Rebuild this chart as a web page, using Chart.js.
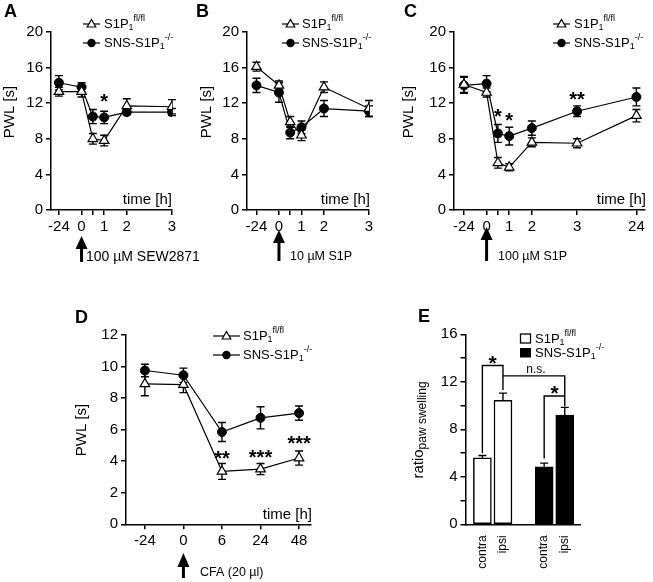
<!DOCTYPE html>
<html><head><meta charset="utf-8">
<script src="https://cdn.jsdelivr.net/npm/chart.js@4.4.1/dist/chart.umd.min.js"></script>
<style>
html,body{margin:0;padding:0;background:#fff;}
#wrap{position:relative;width:653px;height:582px;overflow:hidden;background:#fff;}
canvas{position:absolute;}
</style></head><body>
<div id="wrap">
<canvas id="cA" width="230" height="290" style="left:0px;top:0px"></canvas>
<canvas id="cB" width="208" height="290" style="left:192px;top:0px"></canvas>
<canvas id="cC" width="253" height="290" style="left:400px;top:0px"></canvas>
<canvas id="cD" width="400" height="292" style="left:0px;top:290px"></canvas>
<canvas id="cE" width="253" height="292" style="left:400px;top:290px"></canvas>
</div>
<script>
const FONT = 'Arial, "Liberation Sans", Helvetica, sans-serif';
Chart.defaults.font.family = FONT;
Chart.defaults.color = '#000';

// ================= DATA =================
// Panel A: 100 µM SEW2871
const timeA = ['-24','0','0.5','1','2','3'];
const flA = [13.3, 13.3, 8.0, 7.8, 11.7, 11.6];
const flA_sem = [0.5, 0.6, 0.6, 0.6, 0.8, 0.8];
const koA = [14.3, 13.8, 10.5, 10.4, 11.0, 11.0];
const koA_sem = [0.8, 0.5, 0.8, 0.7, 0.3, 0.4];
// Panel B: 10 µM S1P
const timeB = ['-24','0','0.5','1','2','3'];
const flB = [16.1, 14.0, 9.9, 8.4, 13.8, 11.4];
const flB_sem = [0.5, 0.5, 0.6, 0.6, 0.6, 0.9];
const koB = [14.0, 13.2, 8.7, 9.3, 11.4, 11.1];
const koB_sem = [0.8, 1.1, 0.7, 0.7, 0.9, 0.6];
// Panel C: 100 µM S1P
const timeC = ['-24','0','0.5','1','2','3','24'];
const flC = [14.1, 13.2, 5.3, 4.8, 7.6, 7.5, 10.6];
const flC_sem = [0.9, 0.5, 0.6, 0.4, 0.5, 0.5, 0.7];
const koC = [14.0, 14.2, 8.6, 8.3, 9.2, 11.1, 12.7];
const koC_sem = [0.9, 0.9, 1.0, 1.0, 0.8, 0.6, 1.0];
// Panel D: CFA (20 µl)
const timeD = ['-24','0','6','24','48'];
const flD = [8.9, 8.85, 3.35, 3.5, 4.2];
const flD_sem = [0.75, 0.5, 0.5, 0.35, 0.45];
const koD = [9.75, 9.45, 5.85, 6.75, 7.05];
const koD_sem = [0.4, 0.45, 0.6, 0.7, 0.45];
// Panel E: paw swelling
const sidesE = ['contra','ipsi','contra','ipsi'];
const groupE = ['fl','fl','ko','ko'];
const ratioE = [5.6, 10.45, 4.85, 9.2];
const ratioE_sem = [0.2, 0.6, 0.3, 0.65];

// tick labels
const tickTextAB = ['-24','0','','1','2','3'];
const tickTextC = ['-24','0','','1','2','3','24'];
const tickTextD = ['-24','0','6','24','48'];
const yTicksTop = [0, 20, 4];   // min, max, step
const yTicksD = [0, 12, 2];
const yTicksE = [0, 16, 2];
// broken time axis: where each time sits along the drawn axis
const axisAB = [-1, 0, 0.5, 1, 2, 4];
const axisC = [-1, 0, 0.5, 1, 2, 4, 6.62];
const axisD = [0, 1, 2, 3, 4];
const axisE = [0, 1, 3, 4];

// significance marks [time, y, text]
const starsA = [['1', 12.6, '*']];
const starsB = [];
const starsC = [['0.5', 10.9, '*'], ['1', 10.45, '*'], ['3', 12.8, '**']];
const starsD = [['6', 4.4, '**'], ['24', 4.45, '***'], ['48', 5.35, '***']];

const legendFl = [['S1P', 13, 0], ['1', 9, 4], ['fl/fl', 9, -5]];
const legendKo = [['SNS-S1P', 13, 0], ['1', 9, 4], ['-/-', 9, -5]];

// ================= HELPERS =================
function richWidth(ctx, parts) {
  let w = 0;
  for (const [t, s] of parts) { ctx.font = s + 'px ' + FONT; w += ctx.measureText(t).width; }
  return w;
}
function drawRich(ctx, parts, x, y) {
  ctx.textBaseline = 'middle'; ctx.textAlign = 'left';
  for (const [t, s, dy] of parts) {
    ctx.font = s + 'px ' + FONT;
    ctx.fillText(t, x, y + dy);
    x += ctx.measureText(t).width;
  }
}
function drawStar(ctx, t, x, y, font) {
  ctx.font = font; ctx.textAlign = 'center'; ctx.textBaseline = 'alphabetic';
  const m = ctx.measureText(t);
  ctx.fillText(t, x, y + (m.actualBoundingBoxAscent - m.actualBoundingBoxDescent) / 2);
}
function drawTri(ctx, x, y, r) {
  ctx.beginPath();
  ctx.moveTo(x, y - r);
  ctx.lineTo(x + r * 0.866, y + r * 0.5);
  ctx.lineTo(x - r * 0.866, y + r * 0.5);
  ctx.closePath();
  ctx.fillStyle = '#fff'; ctx.fill();
  ctx.lineWidth = 1.2; ctx.strokeStyle = '#000'; ctx.stroke();
}
function drawArrow(ctx, x, tip, base, bottom) {
  ctx.fillStyle = '#000';
  ctx.beginPath();
  ctx.moveTo(x, tip); ctx.lineTo(x + 6, base); ctx.lineTo(x - 6, base); ctx.closePath(); ctx.fill();
  ctx.fillRect(x - 1.5, base - 1, 3, bottom - base + 1);
}

const errPlugin = {
  id: 'errbars',
  beforeDatasetsDraw(chart) {
    if (chart.config.type !== 'line') return;
    const ctx = chart.ctx, ys = chart.scales.y;
    ctx.save(); ctx.strokeStyle = '#000'; ctx.lineWidth = 1.4;
    chart.data.datasets.forEach((ds, di) => {
      const meta = chart.getDatasetMeta(di);
      meta.data.forEach((el, i) => {
        const v = ds.data[i].y, e = ds.sem[i];
        const y1 = ys.getPixelForValue(v + e), y2 = ys.getPixelForValue(v - e), x = el.x;
        ctx.beginPath();
        ctx.moveTo(x, y1); ctx.lineTo(x, y2);
        ctx.moveTo(x - 4, y1); ctx.lineTo(x + 4, y1);
        ctx.moveTo(x - 4, y2); ctx.lineTo(x + 4, y2);
        ctx.stroke();
      });
    });
    ctx.restore();
  },
  afterDatasetsDraw(chart) {
    if (chart.config.type !== 'bar') return;
    const ctx = chart.ctx, ys = chart.scales.y;
    ctx.save(); ctx.strokeStyle = '#000'; ctx.lineWidth = 1.4;
    chart.data.datasets.forEach((ds, di) => {
      const meta = chart.getDatasetMeta(di);
      meta.data.forEach((el, i) => {
        const v = ds.data[i].y, e = ds.sem[i];
        const y1 = ys.getPixelForValue(v + e), y2 = ys.getPixelForValue(v), x = el.x;
        ctx.beginPath();
        ctx.moveTo(x, y1); ctx.lineTo(x, y2);
        ctx.moveTo(x - 4, y1); ctx.lineTo(x + 4, y1);
        ctx.stroke();
      });
    });
    ctx.restore();
  }
};

function axisStyle() {
  return {
    grid: { display: true, drawOnChartArea: false, drawTicks: true, tickLength: 5, color: '#000', lineWidth: 1.5 },
    border: { display: true, color: '#000', width: 1.5 }
  };
}

function makeLinePanel(P) {
  const el = document.getElementById(P.id);
  const W = el.width, H = el.height;
  const [ox, oy] = P.off;
  const a = { l: P.area[0] - ox, t: P.area[1] - oy, r: P.area[2] - ox, b: P.area[3] - oy };
  const posOf = t => P.axis[P.time.indexOf(t)];
  const ds = [
    { data: P.time.map((t, i) => ({ x: P.axis[i], y: P.fl[i] })), sem: P.flSem,
      pointStyle: 'triangle', pointRadius: 5.5, pointBackgroundColor: '#fff', pointBorderColor: '#000',
      pointBorderWidth: 1.2, borderColor: '#000', borderWidth: 1.2, tension: 0, order: 0 },
    { data: P.time.map((t, i) => ({ x: P.axis[i], y: P.ko[i] })), sem: P.koSem,
      pointStyle: 'circle', pointRadius: 4.5, pointBackgroundColor: '#000', pointBorderColor: '#000',
      pointBorderWidth: 1, borderColor: '#000', borderWidth: 1.2, tension: 0, order: 1 }
  ];
  const anno = {
    id: 'anno',
    afterDraw(chart) {
      const ctx = chart.ctx, xs = chart.scales.x, ys = chart.scales.y;
      const X = v => xs.getPixelForValue(v) + ox, Y = v => ys.getPixelForValue(v) + oy;
      ctx.save();
      ctx.translate(-ox, -oy);
      ctx.fillStyle = '#000'; ctx.strokeStyle = '#000';
      // panel letter
      ctx.font = 'bold 18px ' + FONT; ctx.textAlign = 'left'; ctx.textBaseline = 'middle';
      ctx.fillText(P.letter[0], P.letter[1], P.letter[2]);
      // y title
      ctx.save(); ctx.translate(P.ytitle[0], P.ytitle[1]); ctx.rotate(-Math.PI / 2);
      ctx.font = '15px ' + FONT; ctx.textAlign = 'center'; ctx.textBaseline = 'middle';
      ctx.fillText('PWL [s]', 0, 0); ctx.restore();
      // x title
      ctx.font = '15px ' + FONT; ctx.textAlign = 'right'; ctx.textBaseline = 'middle';
      ctx.fillText('time [h]', P.xtitle[0], P.xtitle[1]);
      // legend
      const L = P.legend;
      [[L.y1, 'tri', legendFl], [L.y2, 'dot', legendKo]].forEach(([y, k, parts]) => {
        ctx.lineWidth = 1.2; ctx.strokeStyle = '#000';
        ctx.beginPath(); ctx.moveTo(L.x1, y); ctx.lineTo(L.x2, y); ctx.stroke();
        const mx = (L.x1 + L.x2) / 2;
        if (k === 'tri') drawTri(ctx, mx, y + 0.5, 5);
        else { ctx.fillStyle = '#000'; ctx.beginPath(); ctx.arc(mx, y, 4.2, 0, Math.PI * 2); ctx.fill(); }
        ctx.fillStyle = '#000';
        drawRich(ctx, parts, L.tx, y);
      });
      // arrow + treatment
      const ax = X(posOf('0'));
      drawArrow(ctx, ax, P.arrow[0], P.arrow[1], P.arrow[2]);
      ctx.font = P.drug[3] + 'px ' + FONT; ctx.textAlign = 'left'; ctx.textBaseline = 'middle';
      ctx.fillText(P.drug[0], P.drug[1], P.drug[2]);
      // stars
      P.stars.forEach(([t, y, s]) => drawStar(ctx, s, X(posOf(t)), Y(y), 'bold 20px ' + FONT));
      ctx.restore();
    }
  };
  const st = axisStyle();
  new Chart(el, {
    type: 'line',
    data: { datasets: ds },
    options: {
      responsive: false, animation: false, devicePixelRatio: 1,
      layout: { padding: { left: 0, top: a.t, right: W - a.r, bottom: H - a.b - 30 } },
      plugins: { legend: { display: false }, tooltip: { enabled: false } },
      scales: {
        x: { type: 'linear', min: P.xmin, max: P.xmax, offset: false,
          afterFit: s => { s.height = 30; },
          afterBuildTicks: s => { s.ticks = P.axis.map(v => ({ value: v })); },
          ticks: { autoSkip: false, maxRotation: 0, minRotation: 0, padding: 3, font: { size: 15 },
            callback: (v, i) => P.tickText[i] },
          grid: st.grid, border: st.border },
        y: { min: P.yt[0], max: P.yt[1],
          afterFit: s => { s.width = a.l; },
          ticks: { stepSize: P.yt[2], padding: 3, font: { size: 15 } },
          grid: st.grid, border: st.border }
      }
    },
    plugins: [errPlugin, anno]
  });
}

makeLinePanel({ id: 'cA', off: [0, 0], area: [51, 32, 172, 210], xmin: -1.35, xmax: 4,
  time: timeA, axis: axisAB, tickText: tickTextAB, fl: flA, flSem: flA_sem, ko: koA, koSem: koA_sem,
  yt: yTicksTop, stars: starsA, letter: ['A', 4, 12], ytitle: [10, 112], xtitle: [172, 200],
  legend: { x1: 83, x2: 100, tx: 104, y1: 24, y2: 43 },
  arrow: [236, 249, 262], drug: ['100 µM SEW2871', 86, 257, 14] });

makeLinePanel({ id: 'cB', off: [192, 0], area: [247, 32, 369, 210], xmin: -1.42, xmax: 4,
  time: timeB, axis: axisAB, tickText: tickTextAB, fl: flB, flSem: flB_sem, ko: koB, koSem: koB_sem,
  yt: yTicksTop, stars: starsB, letter: ['B', 196, 12], ytitle: [207, 112], xtitle: [370, 200],
  legend: { x1: 282, x2: 299, tx: 302, y1: 24, y2: 43 },
  arrow: [230, 243, 261], drug: ['10 µM S1P', 290, 257, 12.5] });

makeLinePanel({ id: 'cC', off: [400, 0], area: [454, 32, 645, 210], xmin: -1.44, xmax: 7.0,
  time: timeC, axis: axisC, tickText: tickTextC, fl: flC, flSem: flC_sem, ko: koC, koSem: koC_sem,
  yt: yTicksTop, stars: starsC, letter: ['C', 404, 12], ytitle: [409, 112], xtitle: [646, 200],
  legend: { x1: 553, x2: 570, tx: 574, y1: 24, y2: 43 },
  arrow: [227, 240, 261], drug: ['100 µM S1P', 498, 257, 12.5] });

makeLinePanel({ id: 'cD', off: [0, 290], area: [126, 335, 311, 524.3], xmin: -0.49, xmax: 4.31,
  time: timeD, axis: axisD, tickText: tickTextD, fl: flD, flSem: flD_sem, ko: koD, koSem: koD_sem,
  yt: yTicksD, stars: starsD, letter: ['D', 75, 318], ytitle: [82, 430], xtitle: [312, 515],
  legend: { x1: 213, x2: 240, tx: 243, y1: 336, y2: 355 },
  arrow: [553, 567, 578], drug: ['CFA (20 µl)', 200, 573, 12.5] });

// ================= PANEL E =================
(function () {
  const el = document.getElementById('cE');
  const W = el.width, H = el.height, ox = 400, oy = 290;
  const a = { l: 465.5 - ox, t: 334.3 - oy, r: 580 - ox, b: 524.3 - oy };
  const idx = g => groupE.map((v, i) => v === g ? i : -1).filter(i => i >= 0);
  const mk = (g, fill) => {
    const ii = idx(g);
    return { data: ii.map(i => ({ x: axisE[i], y: ratioE[i] })), sem: ii.map(i => ratioE_sem[i]),
      backgroundColor: fill, borderColor: '#000', borderWidth: 1.5, borderSkipped: false,
      barThickness: 18, grouped: false };
  };
  // brackets in data coordinates [x, y]
  const brFl = [[0, 5.98], [0, 13.37], [1, 13.37], [1, 11.3]];
  const brNs = [[1, 12.5], [4, 12.5], [4, 9.95]];
  const brKo = [[3, 5.55], [3, 10.8], [4, 10.8]];
  const starsE = [[0.5, 13.8, '*'], [3.5, 11.3, '*']];
  const nsE = [2.6, 13.0, 'n.s.'];
  const anno = {
    id: 'annoE',
    afterDraw(chart) {
      const ctx = chart.ctx, xs = chart.scales.x, ys = chart.scales.y;
      const X = v => xs.getPixelForValue(v) + ox, Y = v => ys.getPixelForValue(v) + oy;
      ctx.save(); ctx.translate(-ox, -oy);
      ctx.fillStyle = '#000'; ctx.strokeStyle = '#000';
      ctx.font = 'bold 18px ' + FONT; ctx.textAlign = 'left'; ctx.textBaseline = 'middle';
      ctx.fillText('E', 418, 317);
      // y title
      ctx.save(); ctx.translate(419, 430); ctx.rotate(-Math.PI / 2);
      const tp = [['ratio', 15, 0], ['paw swelling', 12, 4]];
      const w = richWidth(ctx, tp);
      drawRich(ctx, tp, -w / 2, 0); ctx.restore();
      // legend
      ctx.lineWidth = 1.3;
      ctx.fillStyle = '#fff'; ctx.fillRect(520.5, 334, 10, 9); ctx.strokeRect(520.5, 334, 10, 9);
      ctx.fillStyle = '#000'; ctx.fillRect(520, 348, 11, 9.5);
      drawRich(ctx, legendFl, 535, 339);
      drawRich(ctx, legendKo, 535, 353);
      // brackets
      ctx.lineWidth = 1.4;
      [brFl, brNs, brKo].forEach(pts => {
        ctx.beginPath();
        pts.forEach(([x, y], i) => i ? ctx.lineTo(X(x), Y(y)) : ctx.moveTo(X(x), Y(y)));
        ctx.stroke();
      });
      starsE.forEach(([x, y, s]) => drawStar(ctx, s, X(x), Y(y), 'bold 21px ' + FONT));
      ctx.font = '12px ' + FONT; ctx.textAlign = 'center'; ctx.textBaseline = 'middle';
      ctx.fillText(nsE[2], X(nsE[0]), Y(nsE[1]));
      ctx.restore();
    }
  };
  const st = axisStyle();
  new Chart(el, {
    type: 'bar',
    data: { datasets: [mk('fl', '#fff'), mk('ko', '#000')] },
    options: {
      responsive: false, animation: false, devicePixelRatio: 1,
      layout: { padding: { left: 0, top: a.t, right: W - a.r, bottom: H - a.b - 45 } },
      plugins: { legend: { display: false }, tooltip: { enabled: false } },
      scales: {
        x: { type: 'linear', min: -0.82, max: 4.74, offset: false,
          afterFit: s => { s.height = 45; },
          afterBuildTicks: s => { s.ticks = axisE.map(v => ({ value: v })); },
          ticks: { autoSkip: false, minRotation: 90, maxRotation: 90, padding: 11, font: { size: 12 },
            callback: (v, i) => sidesE[i] },
          grid: { display: true, drawOnChartArea: false, drawTicks: false, offset: false, color: '#000' },
          border: st.border },
        y: { min: yTicksE[0], max: yTicksE[1],
          afterFit: s => { s.width = a.l; },
          ticks: { stepSize: yTicksE[2], padding: 3, font: { size: 15 }, callback: v => (v % 4 === 0 ? v : '') },
          grid: st.grid, border: st.border }
      }
    },
    plugins: [errPlugin, anno]
  });
})();
</script>
</body></html>
